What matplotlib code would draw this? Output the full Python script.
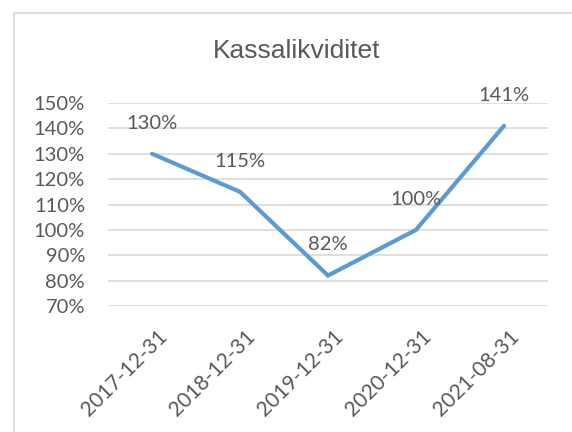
import matplotlib
matplotlib.use('Agg')
import matplotlib.pyplot as plt
import matplotlib.transforms as mtransforms
from matplotlib.patches import Rectangle

# data
dates = ['2017-12-31', '2018-12-31', '2019-12-31', '2020-12-31', '2021-08-31']
values = [130, 115, 82, 100, 141]
yticks = list(range(70, 151, 10))

W, H = 572, 432
fig = plt.figure(figsize=(W / 100, H / 100), dpi=100)
fig.patch.set_facecolor('white')

# chart border, runs off the right and bottom edges
fig.patches.append(Rectangle((14 / W, -0.1), 1.2, 1 - 13 / H + 0.1,
                             transform=fig.transFigure, fill=False,
                             edgecolor='#D9D9D9', linewidth=1.2))

# plot area: 108..548 px wide, 103..306 px high
ax = fig.add_axes([108 / W, 1 - 306 / H, 440 / W, 203 / H])
ax.set_ylim(70, 150)
ax.set_xlim(-0.5, len(dates) - 0.5)

txt = '#595959'
font = 'Lato'

ax.set_yticks(yticks)
ax.set_yticklabels([f'{v}%' for v in yticks], fontsize=14.5, color=txt,
                   family=font)
ax.grid(axis='y', color='#D9D9D9', linewidth=1.2)
ax.set_axisbelow(True)
ax.tick_params(axis='y', length=0, pad=16.5)
ax.tick_params(axis='x', length=0, pad=0)
for s in ax.spines.values():
    s.set_visible(False)

x = list(range(len(dates)))
ax.set_xticks(x)
ax.set_xticklabels(dates, rotation=45, ha='right', va='top',
                   rotation_mode='anchor', fontsize=15, color=txt,
                   family=font)
shift = mtransforms.ScaledTranslation(5 / 100, -20 / 100, fig.dpi_scale_trans)
for lbl in ax.get_xticklabels():
    lbl.set_transform(lbl.get_transform() + shift)

ax.plot(x, values, color='#5B9BD5', linewidth=3, solid_capstyle='round',
        solid_joinstyle='miter', clip_on=False)

# data labels sit centred above each point
for xi, v in zip(x, values):
    ax.annotate(f'{v}%', (xi, v), xytext=(0, 22), textcoords='offset points',
                ha='center', va='center', fontsize=14.5, color=txt,
                family=font)

fig.text(297 / W, 1 - 51 / H, 'Kassalikviditet', ha='center', va='center',
         fontsize=19, color=txt, family='Liberation Sans')

fig.savefig('out.png', dpi=100)
